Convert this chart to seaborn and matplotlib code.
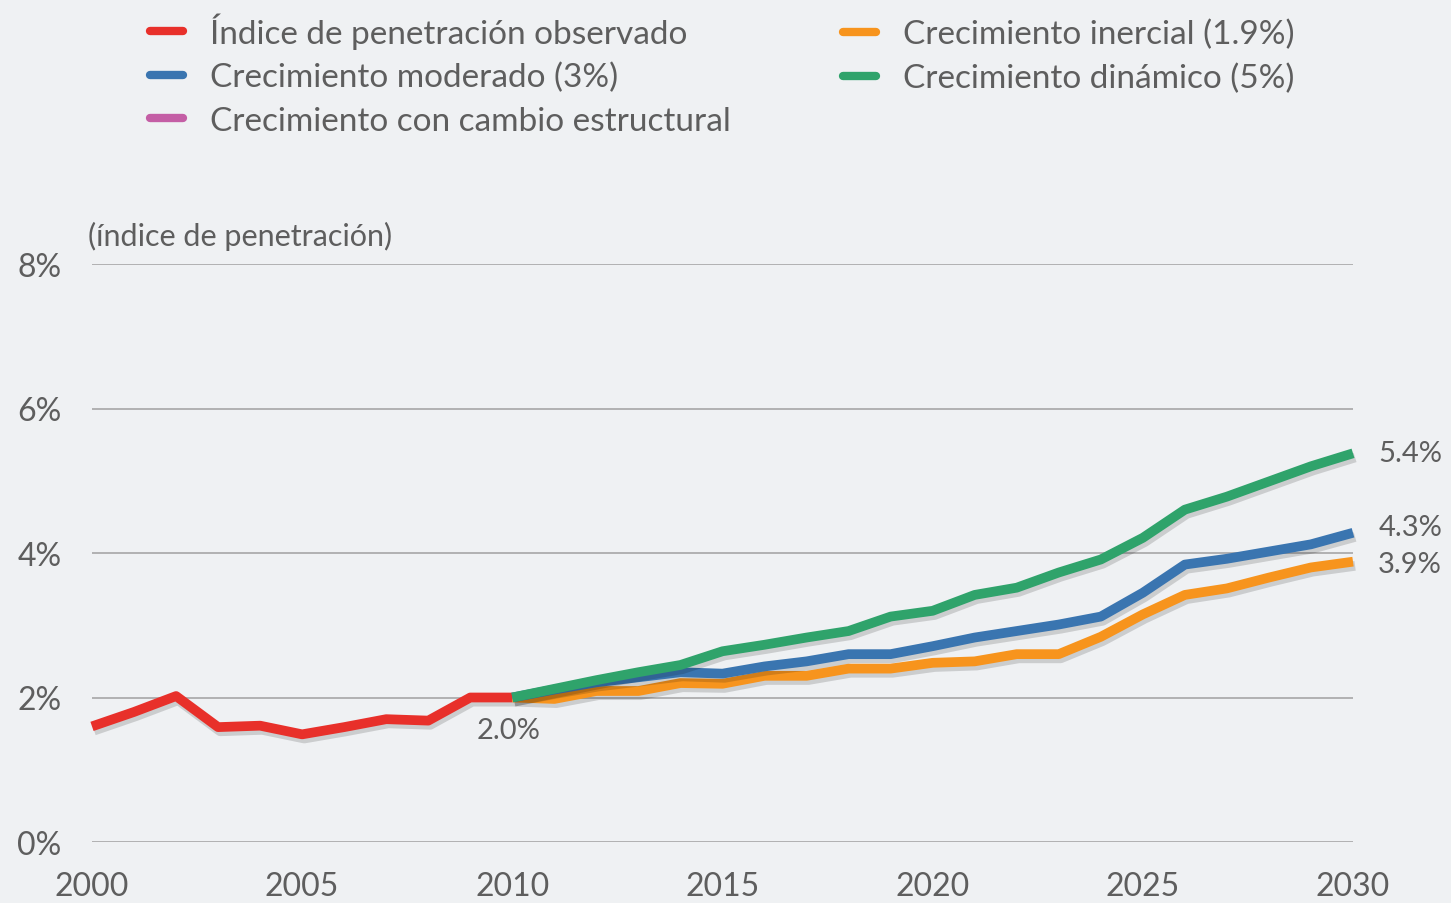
import numpy as np
import pandas as pd
import matplotlib
matplotlib.use('Agg')
import matplotlib.pyplot as plt
import matplotlib.patheffects as pe
from matplotlib.lines import Line2D
import seaborn as sns

# ---------- datos ----------
anios_obs = list(range(2000, 2011))
observado = [1.60, 1.80, 2.02, 1.59, 1.61, 1.49, 1.59, 1.70, 1.68, 2.00, 2.00]

anios_proy = list(range(2010, 2031))
inercial = [2.00, 1.98, 2.09, 2.09, 2.20, 2.19, 2.30, 2.30, 2.40, 2.40, 2.48,
            2.50, 2.60, 2.60, 2.84, 3.15, 3.42, 3.51, 3.66, 3.80, 3.88]
moderado = [2.00, 2.11, 2.21, 2.28, 2.35, 2.33, 2.43, 2.50, 2.60, 2.60, 2.71,
            2.83, 2.92, 3.01, 3.12, 3.45, 3.84, 3.92, 4.02, 4.12, 4.28]
dinamico = [2.00, 2.12, 2.24, 2.35, 2.45, 2.64, 2.73, 2.83, 2.92, 3.12, 3.20,
            3.42, 3.52, 3.73, 3.91, 4.21, 4.60, 4.78, 4.99, 5.20, 5.38]

etiquetas = ['Índice de penetración observado', 'Crecimiento moderado (3%)',
             'Crecimiento con cambio estructural', 'Crecimiento inercial (1.9%)',
             'Crecimiento dinámico (5%)']
colores = ['#e8302a', '#3a75b0', '#c45ea5', '#f7941d', '#2fa36b']

finales = ['5.4%', '4.3%', '3.9%']
yticks = [0, 2, 4, 6, 8]
xticks = [2000, 2005, 2010, 2015, 2020, 2025, 2030]

# ---------- estilo ----------
sns.set_theme(style='white')
plt.rcParams['font.family'] = ['Lato', 'DejaVu Sans']
gris = '#5e5e5e'
fondo = '#eff1f3'

fig = plt.figure(figsize=(14.51, 9.04), dpi=100, facecolor=fondo)
ax = fig.add_axes([92 / 1451, 1 - 843 / 904, (1353 - 92) / 1451, (843 - 265) / 904])
ax.set_facecolor(fondo)

sombra = [pe.SimpleLineShadow(offset=(1.5, -3), shadow_color='black', alpha=0.15),
          pe.Normal()]

series = [
    (anios_obs, observado, colores[0]),
    (anios_proy, inercial, colores[3]),
    (anios_proy, moderado, colores[1]),
    (anios_proy, dinamico, colores[4]),
]
for xs, ys, c in series:
    sns.lineplot(x=xs, y=ys, ax=ax, color=c, lw=7, solid_capstyle='butt',
                 solid_joinstyle='round', clip_on=False, path_effects=sombra,
                 zorder=3)

for yv in yticks:
    ax.axhline(yv, color='#a0a0a0', lw=1.1, zorder=1)

ax.set_xlim(2000, 2030)
ax.set_ylim(0, 8)
ax.set_xticks(xticks)
ax.set_yticks(yticks)
ax.set_yticklabels([f'{v}%' for v in yticks])
ax.tick_params(axis='both', length=0, labelsize=23, colors=gris)
ax.tick_params(axis='y', pad=22)
ax.tick_params(axis='x', pad=21)
for s in ax.spines.values():
    s.set_visible(False)
ax.grid(False)

ax.text(1999.9, 8.39, '(índice de penetración)', fontsize=22, color=gris,
        ha='left', va='center')

# etiquetas de valores
ax.text(2009.9, 1.55, '2.0%', fontsize=21, color=gris, ha='center', va='center')
ax.text(2030.6, dinamico[-1], finales[0], fontsize=21, color=gris, ha='left', va='center', clip_on=False)
ax.text(2030.6, 4.36, finales[1], fontsize=21, color=gris, ha='left', va='center', clip_on=False)
ax.text(2030.6, 3.85, finales[2], fontsize=21, color=gris, ha='left', va='center', clip_on=False)

# leyenda en dos bloques
def asa(c):
    return Line2D([0], [0], color=c, lw=6)

kw = dict(frameon=False, fontsize=24, handlelength=1.0, handletextpad=0.8,
          labelspacing=0.4, labelcolor=gris, loc='upper left',
          borderaxespad=0, borderpad=0)
fig.legend([asa(colores[i]) for i in range(3)], etiquetas[:3],
           bbox_to_anchor=(150 / 1451, 1 - 13 / 904), **kw)
fig.legend([asa(colores[i]) for i in range(3, 5)], etiquetas[3:],
           bbox_to_anchor=(843 / 1451, 1 - 20 / 904), **kw)

fig.savefig('out.png', dpi=100, facecolor=fondo)
